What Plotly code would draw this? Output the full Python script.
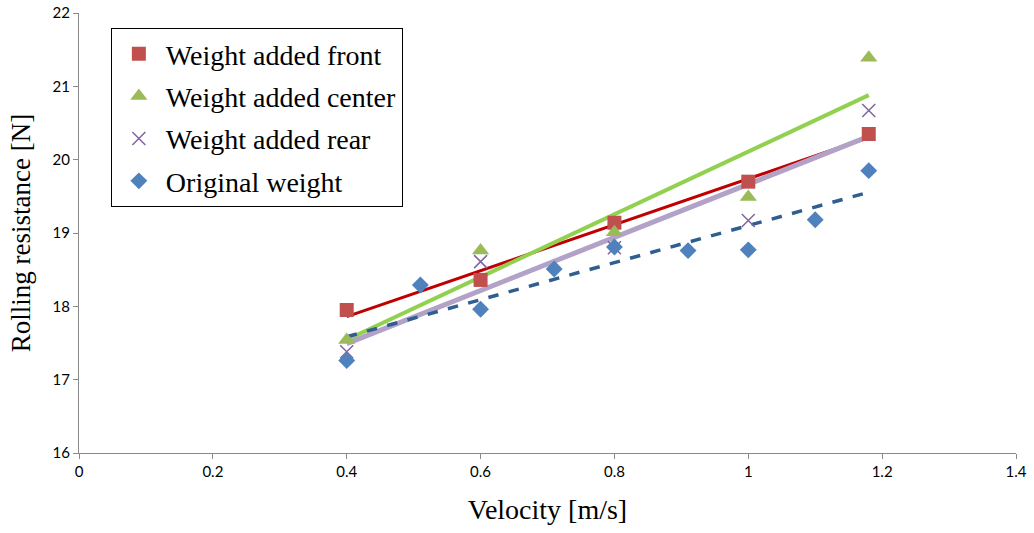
import numpy as np
import plotly.graph_objects as go

# Measured rolling resistance [N] against velocity [m/s]
vel_loaded = [0.4, 0.6, 0.8, 1.0, 1.18]
front = [17.95, 18.36, 19.14, 19.70, 20.35]
center = [17.54, 18.76, 19.01, 19.49, 21.39]
rear = [17.38, 18.61, 18.80, 19.17, 20.67]

vel_orig = [0.4, 0.51, 0.6, 0.71, 0.8, 0.91, 1.0, 1.1, 1.18]
original = [17.26, 18.29, 17.96, 18.51, 18.81, 18.76, 18.77, 19.18, 19.85]

x_ticks = [0, 0.2, 0.4, 0.6, 0.8, 1, 1.2, 1.4]
y_ticks = [16, 17, 18, 19, 20, 21, 22]

series = [
    dict(name="Weight added front", x=vel_loaded, y=front,
         symbol="square", mcolor="#C0504D", msize=14,
         lcolor="#C00000", lwidth=3, dash="solid"),
    dict(name="Weight added center", x=vel_loaded, y=center,
         symbol="triangle-up", mcolor="#9BBB59", msize=15,
         lcolor="#92D050", lwidth=4, dash="solid"),
    dict(name="Weight added rear", x=vel_loaded, y=rear,
         symbol="x-thin-open", mcolor="#8064A2", msize=13,
         lcolor="#B3A2C7", lwidth=5, dash="solid"),
    dict(name="Original weight", x=vel_orig, y=original,
         symbol="diamond", mcolor="#4F81BD", msize=13,
         lcolor="#2F5E91", lwidth=3.5, dash="dash"),
]

fig = go.Figure()

# Linear trendlines first so markers sit on top
for s in series:
    xs = np.array(s["x"])
    slope, icpt = np.polyfit(xs, np.array(s["y"]), 1)
    xl = np.array([xs.min(), xs.max()])
    fig.add_trace(go.Scatter(
        x=xl, y=slope * xl + icpt, mode="lines",
        line=dict(color=s["lcolor"], width=s["lwidth"], dash=s["dash"]),
        showlegend=False, hoverinfo="skip"))

for s in series:
    marker = dict(symbol=s["symbol"], color=s["mcolor"], size=s["msize"])
    if s["symbol"] == "x-thin-open":
        marker["line"] = dict(color=s["mcolor"], width=1.5)
    else:
        marker["line"] = dict(width=0)
    fig.add_trace(go.Scatter(
        x=s["x"], y=s["y"], mode="markers", name=s["name"],
        marker=marker, legendgroup=s["name"]))

axis_common = dict(
    showgrid=False, zeroline=False, showline=True, automargin=False,
    linecolor="#898989", linewidth=1,
    ticks="outside", ticklen=5, tickcolor="#898989",
    tickfont=dict(family="Lato, Open Sans, sans-serif", size=15, color="#000000"),
)

serif = "Liberation Serif, Times New Roman, serif"

fig.update_layout(
    width=1034, height=533,
    margin=dict(l=79, r=18, t=13, b=80, autoexpand=False),
    paper_bgcolor="white", plot_bgcolor="white",
    xaxis=dict(range=[0, 1.4], tickvals=x_ticks,
               ticktext=[f"{v:g}" for v in x_ticks],
               title=dict(text="Velocity [m/s]", standoff=20,
                          font=dict(family=serif, size=28, color="#000000")),
               **axis_common),
    yaxis=dict(range=[16, 22], tickvals=y_ticks,
               title=dict(text="Rolling resistance [N]", standoff=14,
                          font=dict(family=serif, size=27, color="#000000")),
               **axis_common),
    legend=dict(
        x=0.034, y=0.966, xanchor="left", yanchor="top",
        bgcolor="white", bordercolor="#000000", borderwidth=1,
        font=dict(family=serif, size=28, color="#000000"),
        tracegroupgap=3, itemwidth=44,
    ),
)

fig.write_html("out.html")
